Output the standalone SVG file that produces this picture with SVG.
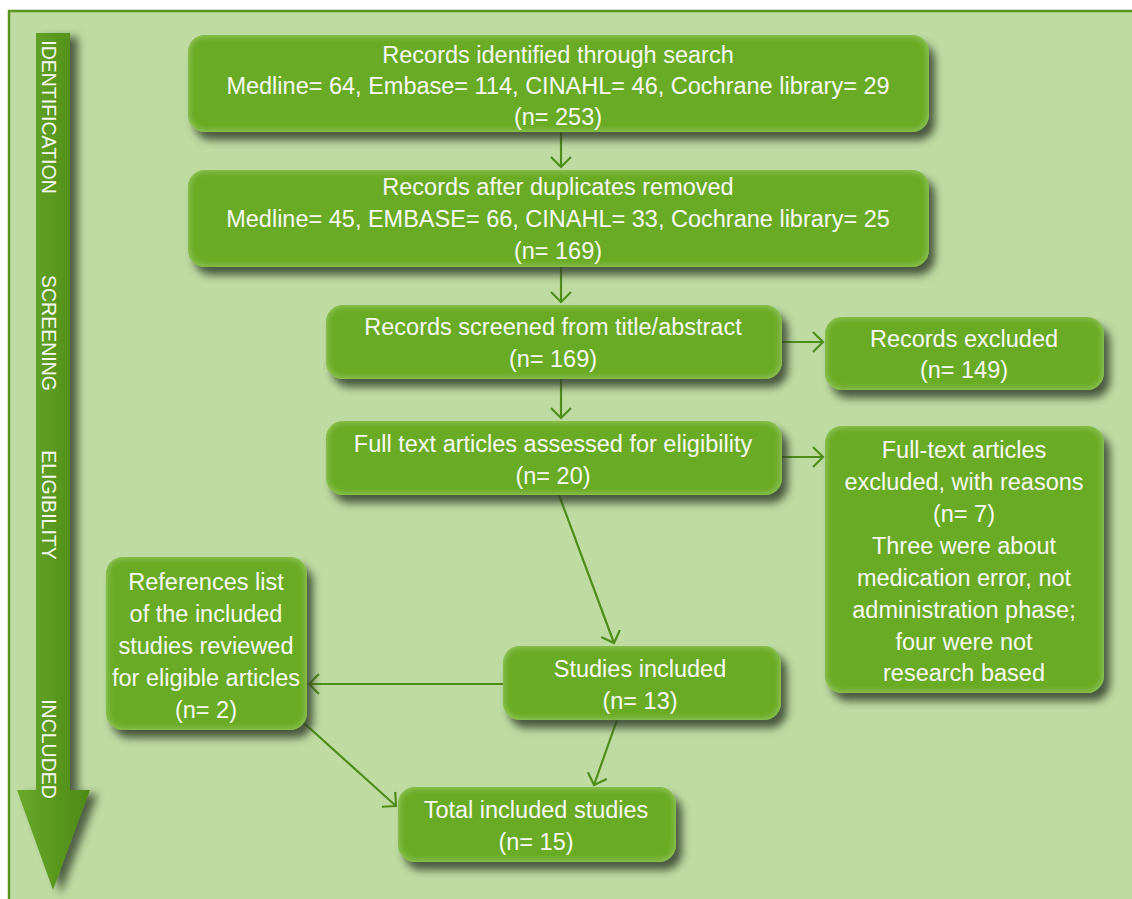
<svg xmlns="http://www.w3.org/2000/svg" width="1132" height="899" viewBox="0 0 1132 899">
<defs>
<style>
.bg{fill:#bedca2;stroke:#5a961e;stroke-width:2.5}
.box{fill:#6aab25;filter:url(#boxfx)}
.t{font-family:"Liberation Sans",Arial,sans-serif;font-size:23.5px;fill:#f7f9f2;text-anchor:middle}
.v{font-family:"Liberation Sans",Arial,sans-serif;font-size:19.5px;fill:#f4f8ee;text-anchor:middle}
.c{fill:none;stroke:#4f8d1a;stroke-width:2.2;marker-end:url(#ah)}
</style>
<filter id="boxfx" x="-10%" y="-20%" width="130%" height="160%">
<feGaussianBlur in="SourceAlpha" stdDeviation="4.5" result="b"/>
<feOffset in="b" dx="6" dy="8" result="o"/>
<feFlood flood-color="#34402c" flood-opacity="0.85"/>
<feComposite in2="o" operator="in" result="shadow"/>
<feGaussianBlur in="SourceAlpha" stdDeviation="3.5" result="ib"/>
<feComposite in="SourceAlpha" in2="ib" operator="out" result="edge"/>
<feFlood flood-color="#a6d468" flood-opacity="0.85"/>
<feComposite in2="edge" operator="in" result="glow"/>
<feMerge><feMergeNode in="shadow"/><feMergeNode in="SourceGraphic"/><feMergeNode in="glow"/></feMerge>
</filter>
<filter id="arrfx" x="-50%" y="-5%" width="220%" height="115%">
<feGaussianBlur in="SourceAlpha" stdDeviation="4" result="b"/>
<feOffset in="b" dx="8" dy="4" result="o"/>
<feFlood flood-color="#34402c" flood-opacity="0.8"/>
<feComposite in2="o" operator="in" result="shadow"/>
<feMerge><feMergeNode in="shadow"/><feMergeNode in="SourceGraphic"/></feMerge>
</filter>
<linearGradient id="arrg" x1="0" y1="0" x2="1" y2="0">
<stop offset="0" stop-color="#6aa82c"/>
<stop offset="0.5" stop-color="#5a991f"/>
<stop offset="1" stop-color="#4e8a18"/>
</linearGradient>
<marker id="ah" markerUnits="userSpaceOnUse" markerWidth="14" markerHeight="24" refX="11" refY="11" orient="auto" viewBox="0 0 14 24">
<path d="M1,1 L11,11 L1,21" fill="none" stroke="#4f8d1a" stroke-width="2.2"/>
</marker>
</defs>

<rect class="bg" x="9" y="11" width="1140" height="900"/>

<g id="stage-arrow">
<path d="M36,33 L70,33 L70,790 L90,790 L53,890 L17,790 L36,790 Z" fill="url(#arrg)" filter="url(#arrfx)"/>
<text class="v" transform="translate(42,117) rotate(90)">IDENTIFICATION</text>
<text class="v" transform="translate(42,333) rotate(90)">SCREENING</text>
<text class="v" transform="translate(42,505) rotate(90)">ELIGIBILITY</text>
<text class="v" transform="translate(42,749) rotate(90)">INCLUDED</text>
</g>

<g id="connectors">
<path class="c" d="M561,132 L561,167"/>
<path class="c" d="M561,267 L561,302"/>
<path class="c" d="M782,342 L823,342"/>
<path class="c" d="M561,379 L561,418"/>
<path class="c" d="M782,457 L823,457"/>
<path class="c" d="M559,495 L614,643"/>
<path class="c" d="M503,684 L309,684"/>
<path class="c" d="M617,720 L594,785"/>
<path class="c" d="M304,723 L396,806"/>
</g>

<g id="n-identified">
<rect class="box" x="188" y="35" width="741" height="97" rx="17"/>
<text class="t" x="558" y="63">Records identified through search</text>
<text class="t" x="558" y="94">Medline= 64, Embase= 114, CINAHL= 46, Cochrane library= 29</text>
<text class="t" x="558" y="125">(n= 253)</text>
</g>

<g id="n-duplicates">
<rect class="box" x="188" y="170" width="741" height="97" rx="17"/>
<text class="t" x="558" y="195">Records after duplicates removed</text>
<text class="t" x="558" y="227">Medline= 45, EMBASE= 66, CINAHL= 33, Cochrane library= 25</text>
<text class="t" x="558" y="259">(n= 169)</text>
</g>

<g id="n-screened">
<rect class="box" x="326" y="305" width="456" height="74" rx="17"/>
<text class="t" x="553" y="335">Records screened from title/abstract</text>
<text class="t" x="553" y="367">(n= 169)</text>
</g>

<g id="n-excluded">
<rect class="box" x="825" y="317" width="279" height="73" rx="17"/>
<text class="t" x="964" y="347">Records excluded</text>
<text class="t" x="964" y="378">(n= 149)</text>
</g>

<g id="n-fulltext">
<rect class="box" x="326" y="421" width="456" height="74" rx="17"/>
<text class="t" x="553" y="452">Full text articles assessed for eligibility</text>
<text class="t" x="553" y="484">(n= 20)</text>
</g>

<g id="n-ft-excluded">
<rect class="box" x="825" y="426" width="279" height="267" rx="17"/>
<text class="t" x="964" y="458">Full-text articles</text>
<text class="t" x="964" y="490">excluded, with reasons</text>
<text class="t" x="964" y="522">(n= 7)</text>
<text class="t" x="964" y="554">Three were about</text>
<text class="t" x="964" y="586">medication error, not</text>
<text class="t" x="964" y="618">administration phase;</text>
<text class="t" x="964" y="650">four were not</text>
<text class="t" x="964" y="681">research based</text>
</g>

<g id="n-references">
<rect class="box" x="106" y="557" width="201" height="173" rx="17"/>
<text class="t" x="206" y="590">References list</text>
<text class="t" x="206" y="622">of the included</text>
<text class="t" x="206" y="654">studies reviewed</text>
<text class="t" x="206" y="686">for eligible articles</text>
<text class="t" x="206" y="718">(n= 2)</text>
</g>

<g id="n-included">
<rect class="box" x="503" y="646" width="278" height="74" rx="17"/>
<text class="t" x="640" y="677">Studies included</text>
<text class="t" x="640" y="709">(n= 13)</text>
</g>

<g id="n-total">
<rect class="box" x="398" y="787" width="278" height="75" rx="17"/>
<text class="t" x="536" y="818">Total included studies</text>
<text class="t" x="536" y="850">(n= 15)</text>
</g>
</svg>
